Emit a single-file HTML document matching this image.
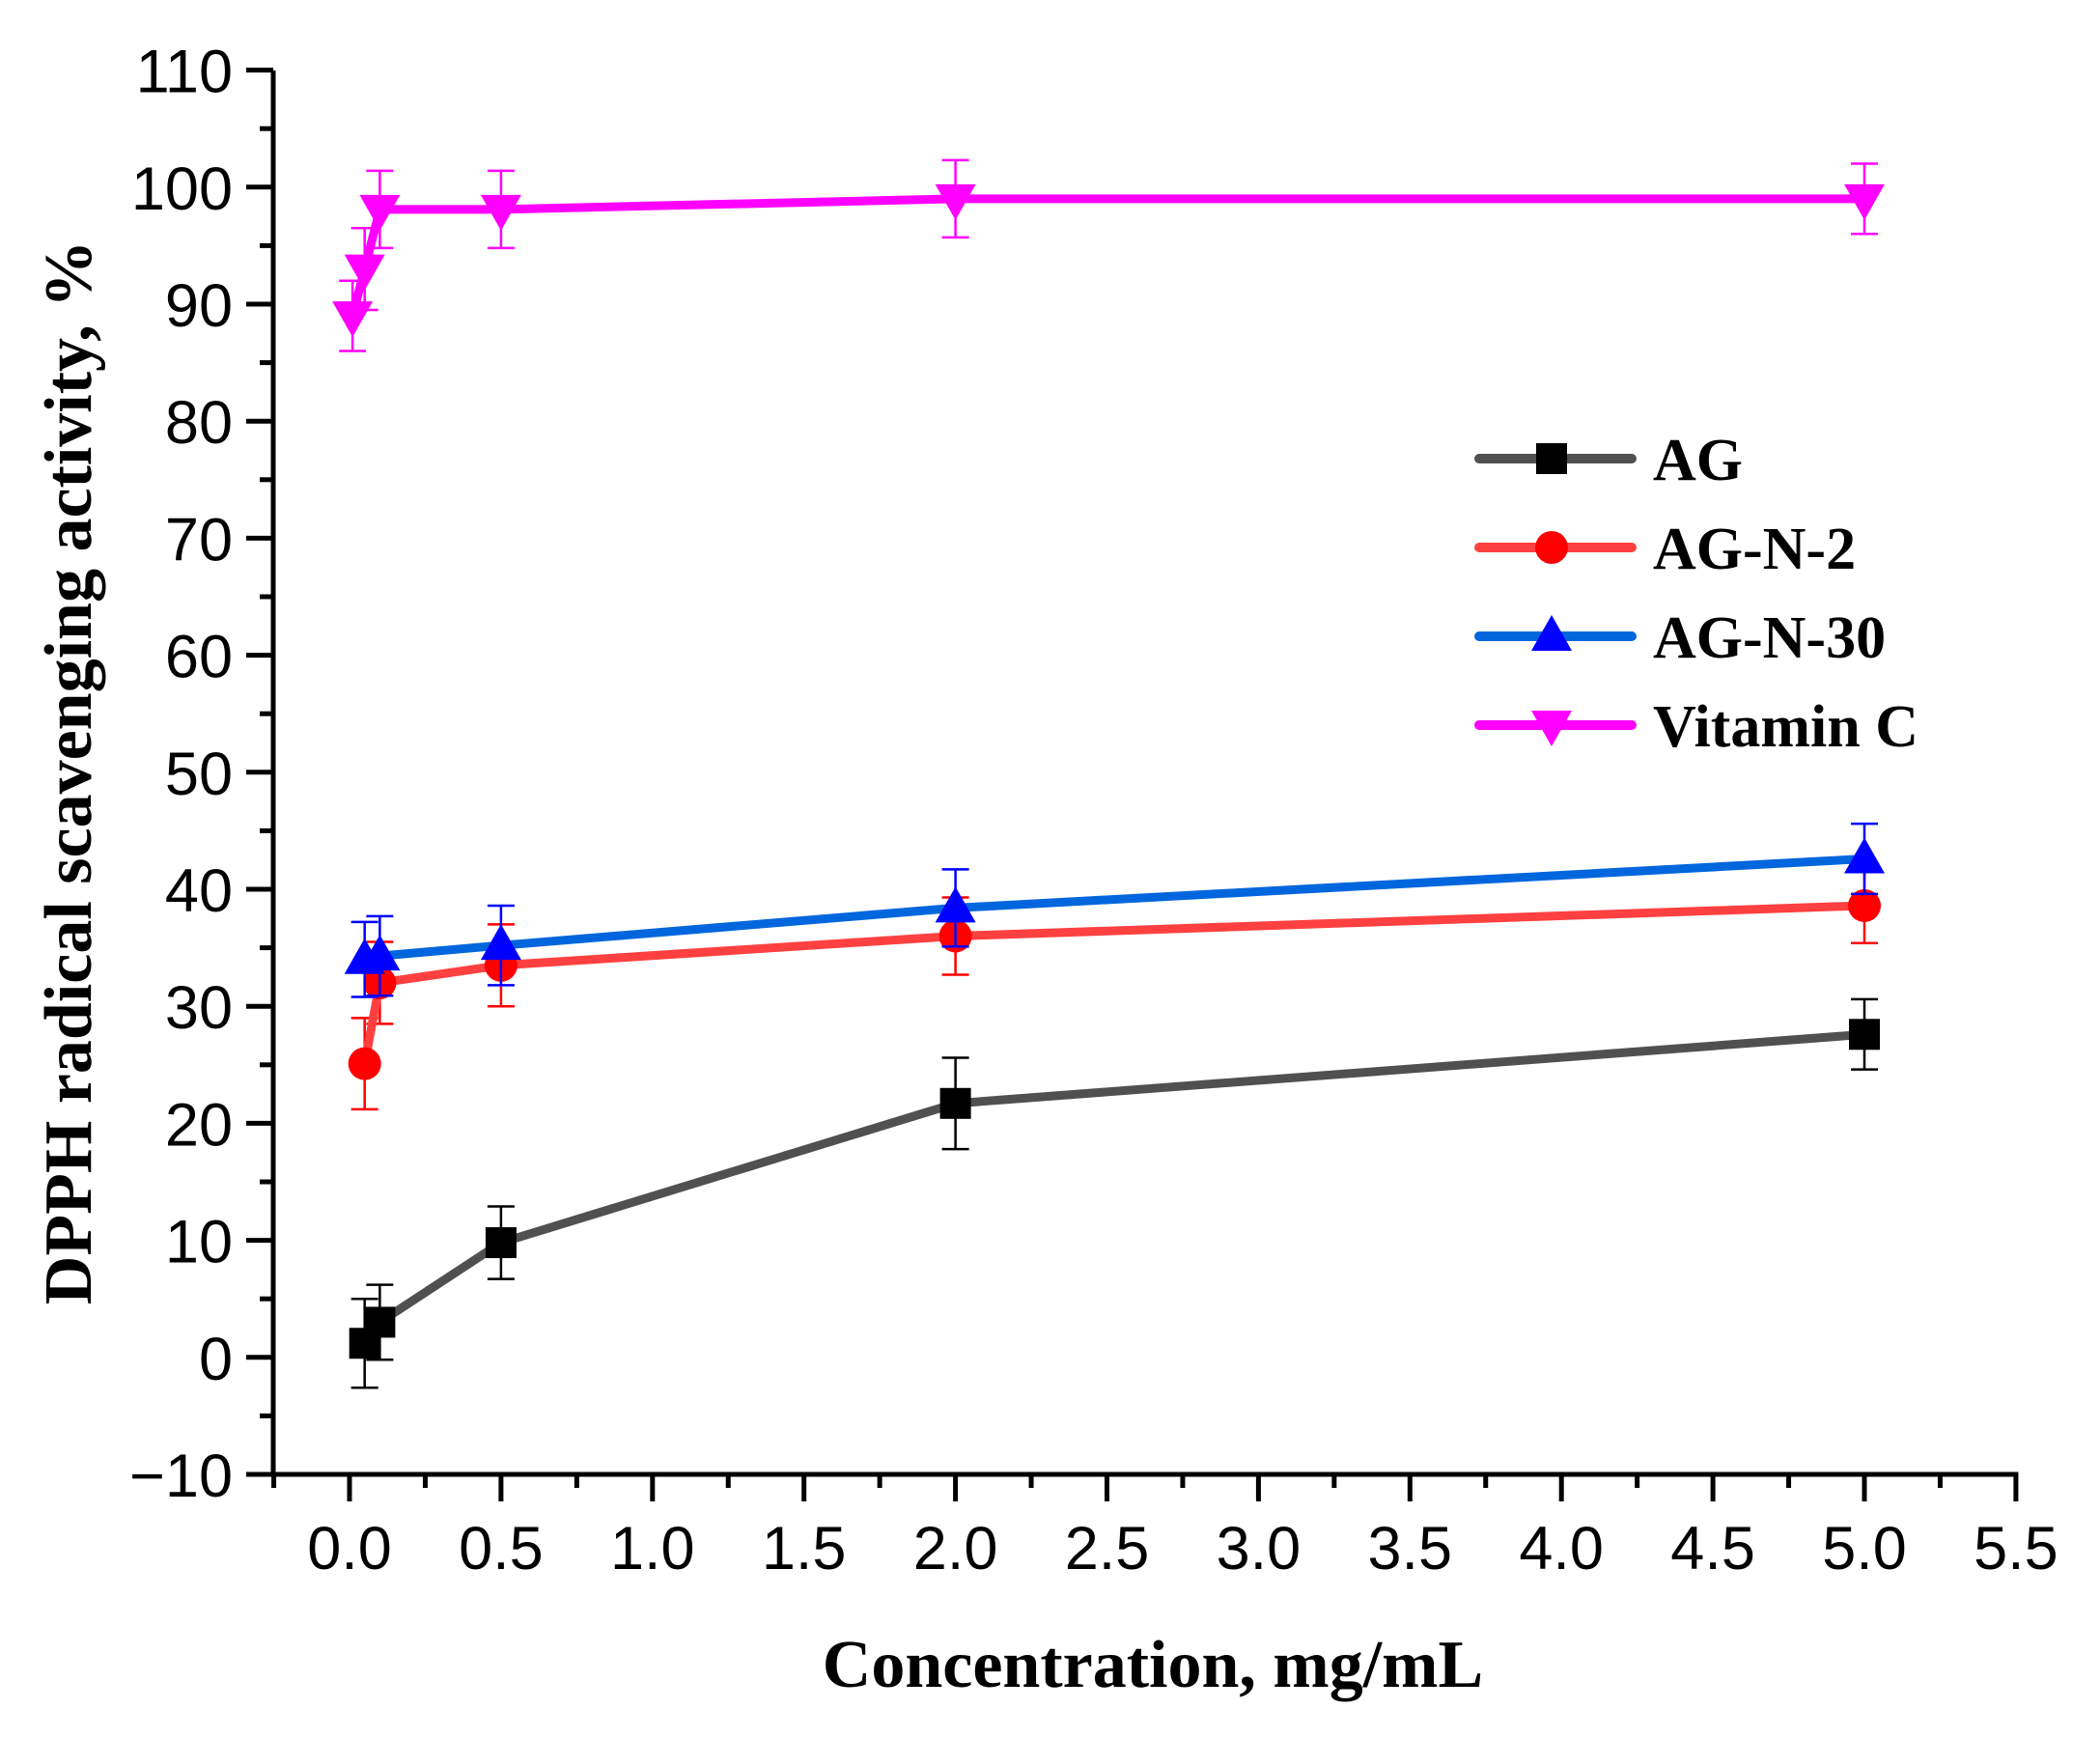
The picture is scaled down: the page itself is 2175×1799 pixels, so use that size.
<!DOCTYPE html>
<html><head><meta charset="utf-8"><style>
html,body{margin:0;padding:0;background:#fff;}
svg{display:block;}
</style></head><body>
<svg id="chart" width="2175" height="1799" viewBox="0 0 2175 1799" xmlns="http://www.w3.org/2000/svg">
<g id="plot"></g>
</svg>
<script>
const xTicks=[0,0.5,1,1.5,2,2.5,3,3.5,4,4.5,5,5.5];
const xTickLabels=["0.0","0.5","1.0","1.5","2.0","2.5","3.0","3.5","4.0","4.5","5.0","5.5"];
const yTicks=[-10,0,10,20,30,40,50,60,70,80,90,100,110];
const yTickLabels=["\u221210","0","10","20","30","40","50","60","70","80","90","100","110"];
const seriesNames=["AG","AG-N-2","AG-N-30","Vitamin C"];
const agX=[0.05,0.1,0.5,2,5];
const agY=[1.2,3.0,9.8,21.7,27.6];
const agErr=[3.8,3.2,3.1,3.9,3.0];
const n2X=[0.05,0.1,0.5,2,5];
const n2Y=[25.1,32.0,33.5,36.0,38.6];
const n2Err=[3.9,3.5,3.5,3.3,3.2];
const n30X=[0.05,0.1,0.5,2,5];
const n30Y=[34.0,34.3,35.2,38.4,42.6];
const n30Err=[3.2,3.4,3.4,3.3,3.0];
const vcX=[0.01,0.05,0.1,0.5,2,5];
const vcY=[89.0,93.0,98.1,98.1,99.0,99.0];
const vcErr=[3.0,3.5,3.3,3.3,3.3,3.0];

const NS="http://www.w3.org/2000/svg";
const g=document.getElementById('plot');
const X0=283,Y0=1527,YT=73;
function sx(v){return 362+v*313.8;}
function sy(v){return 1527-(v+10)*12.12;}
function mk(tag,attrs,parent){const e=document.createElementNS(NS,tag);for(const k in attrs)e.setAttribute(k,attrs[k]);(parent||g).appendChild(e);return e;}

let e;
e=mk('line',{x1:X0,y1:YT,x2:X0,y2:Y0+2.5,stroke:'#000','stroke-width':5});


e=mk('line',{x1:X0-2.5,y1:Y0,x2:sx(5.5)+2.5,y2:Y0,stroke:'#000','stroke-width':5});



yTicks.forEach((v,i)=>{
  const y=sy(v);
  let t=mk('line',{x1:X0-28,y1:y,x2:X0,y2:y,stroke:'#000','stroke-width':5});
  
  
  if(i<yTicks.length-1){
    let m=mk('line',{x1:X0-14,y1:sy(v+5),x2:X0,y2:sy(v+5),stroke:'#000','stroke-width':5});
    
    
  }
  let l=mk('text',{x:X0-42,y:y+23,'text-anchor':'end','font-family':'Liberation Sans, Arial, sans-serif','font-size':63,fill:'#000'});
  l.textContent=yTickLabels[i];
  
  
});
xTicks.forEach((v,i)=>{
  const x=sx(v);
  let t=mk('line',{x1:x,y1:Y0,x2:x,y2:Y0+28,stroke:'#000','stroke-width':5});
  
  
  let m=mk('line',{x1:sx(v-0.25),y1:Y0,x2:sx(v-0.25),y2:Y0+14,stroke:'#000','stroke-width':5});
  
  
  let l=mk('text',{x:x,y:1625,'text-anchor':'middle','font-family':'Liberation Sans, Arial, sans-serif','font-size':63,fill:'#000'});
  l.textContent=xTickLabels[i];
  
  
});

let xt=mk('text',{x:1194,y:1747,'text-anchor':'middle','font-family':'Liberation Serif, Times New Roman, serif','font-weight':'bold','font-size':70,fill:'#000'});
xt.textContent='Concentration, mg/mL';


let yt=mk('text',{x:0,y:0,transform:'translate(94,800) rotate(-90)','text-anchor':'middle','font-family':'Liberation Serif, Times New Roman, serif','font-weight':'bold','font-size':70,fill:'#000'});
yt.textContent='DPPH radical scavenging activity, %';



function marker(type,x,y,color,parent){
  let m;
  if(type==='square') m=mk('rect',{x:x-16,y:y-16,width:32,height:32,fill:color},parent);
  else if(type==='circle') m=mk('circle',{cx:x,cy:y,r:17,fill:color},parent);
  else if(type==='up') m=mk('polygon',{points:`${x},${y-22} ${x-21},${y+15} ${x+21},${y+15}`,fill:color},parent);
  else m=mk('polygon',{points:`${x},${y+22} ${x-21},${y-15} ${x+21},${y-15}`,fill:color},parent);
  return m;
}
function series(name,xs,ys,errs,lineColor,mColor,type){
  const sg=mk('g',{});
  
  
  xs.forEach((xv,i)=>{
    const x=sx(xv),y1=sy(ys[i]+errs[i]),y2=sy(ys[i]-errs[i]);
    const eb=mk('path',{d:`M${x},${y1}V${y2}M${x-14},${y1}H${x+14}M${x-14},${y2}H${x+14}`,stroke:mColor,'stroke-width':2.5,fill:'none'},sg);
    
    
  });
  const pts=xs.map((xv,i)=>sx(xv)+','+sy(ys[i])).join(' ');
  const pl=mk('polyline',{points:pts,fill:'none',stroke:lineColor,'stroke-width':9,'stroke-linejoin':'round','stroke-linecap':'round'},sg);
  
  
  xs.forEach((xv,i)=>{
    const m=marker(type,sx(xv),sy(ys[i]),mColor,sg);
    
    
  });
}
series(seriesNames[0],agX,agY,agErr,'#505050','#000','square');
series(seriesNames[1],n2X,n2Y,n2Err,'#ff4040','#ff0000','circle');
series(seriesNames[2],n30X,n30Y,n30Err,'#0066dd','#0000ff','up');
series(seriesNames[3],vcX,vcY,vcErr,'#ff00ff','#ff00ff','down');

const lg=mk('g',{});


const legY=[475,567,659,751];
const legLine=['#505050','#ff4040','#0066dd','#ff00ff'];
const legM=['#000','#ff0000','#0000ff','#ff00ff'];
const legT=['square','circle','up','down'];
seriesNames.forEach((n,i)=>{
  const eg=mk('g',{},lg);
  
  
  const y=legY[i];
  mk('line',{x1:1532,y1:y,x2:1690,y2:y,stroke:legLine[i],'stroke-width':10,'stroke-linecap':'round'},eg);
  marker(legT[i],1607,y,legM[i],eg);
  const t=mk('text',{x:1712,y:y+22,'font-family':'Liberation Serif, Times New Roman, serif','font-weight':'bold','font-size':62,fill:'#000'},eg);
  t.textContent=n;
});
</script>
</body></html>
